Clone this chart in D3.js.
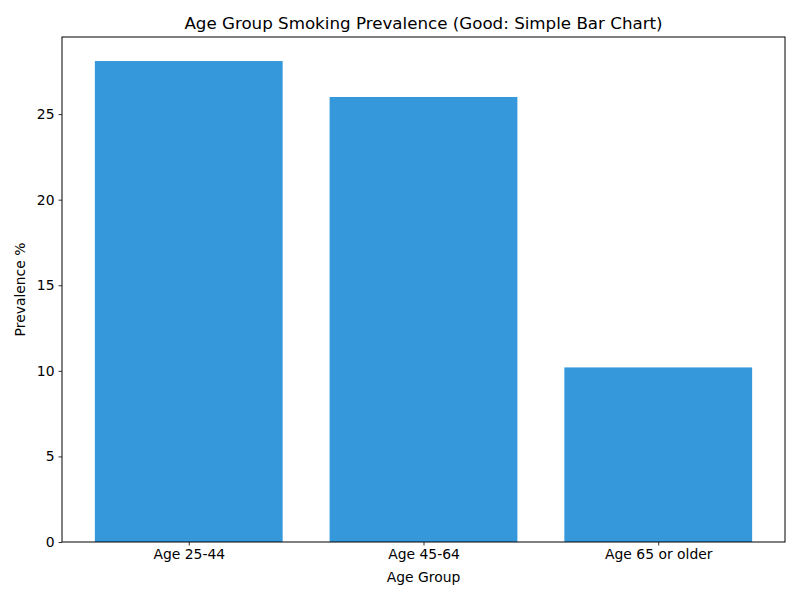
<!DOCTYPE html>
<html>
<head>
<meta charset="utf-8">
<script src="https://cdn.jsdelivr.net/npm/d3@7"></script>
<style>
  body { margin: 0; background: #fff; }
  svg { font-family: "DejaVu Sans", sans-serif; }
</style>
</head>
<body>
<svg id="chart" width="800" height="600"></svg>
<script>
// Data
const ageGroups = ["Age 25-44", "Age 45-64", "Age 65 or older"];
const prevalence = [28.1, 26.0, 10.2];
const yTicks = [0, 5, 10, 15, 20, 25];

const svg = d3.select("#chart");
const margin = { top: 37, right: 15, bottom: 58, left: 62 };
const width = +svg.attr("width") - margin.left - margin.right;
const height = +svg.attr("height") - margin.top - margin.bottom;

const barWidth = 0.8;
const xPad = (ageGroups.length - 1 + barWidth) * 0.05;
const x = d3.scaleLinear()
    .domain([-barWidth / 2 - xPad, ageGroups.length - 1 + barWidth / 2 + xPad])
    .range([0, width]);

const yMax = d3.max(prevalence) * 1.05;
const y = d3.scaleLinear()
    .domain([0, yMax])
    .range([height, 0]);

const g = svg.append("g")
    .attr("transform", `translate(${margin.left},${margin.top})`);

// Bars
g.selectAll(".bar")
    .data(prevalence)
    .enter().append("rect")
    .attr("class", "bar")
    .attr("x", (d, i) => x(i - barWidth / 2))
    .attr("width", x(barWidth) - x(0))
    .attr("y", d => y(d))
    .attr("height", d => y(0) - y(d))
    .attr("fill", "#3498db");

// Axes
const xAxis = g.append("g")
    .attr("transform", `translate(0,${height})`)
    .call(d3.axisBottom(x)
        .tickValues(d3.range(ageGroups.length))
        .tickFormat(i => ageGroups[i])
        .tickSizeOuter(0)
        .tickSize(3.5)
        .tickPadding(4));

const yAxis = g.append("g")
    .call(d3.axisLeft(y)
        .tickValues(yTicks)
        .tickSizeOuter(0)
        .tickSize(3.5)
        .tickPadding(4));

[xAxis, yAxis].forEach(a => {
    a.select(".domain").remove();
    a.selectAll("text")
        .style("font-family", "DejaVu Sans, sans-serif")
        .style("font-size", "13.9px")
        .attr("fill", "#000");
    a.selectAll("line").attr("stroke", "#000").attr("stroke-width", 0.8);
});

// Frame
g.append("rect")
    .attr("width", width)
    .attr("height", height)
    .attr("fill", "none")
    .attr("stroke", "#000")
    .attr("stroke-width", 1);

// Labels
svg.append("text")
    .attr("x", margin.left + width / 2)
    .attr("y", 29)
    .attr("text-anchor", "middle")
    .style("font-size", "16.7px")
    .text("Age Group Smoking Prevalence (Good: Simple Bar Chart)");

svg.append("text")
    .attr("x", margin.left + width / 2)
    .attr("y", 582)
    .attr("text-anchor", "middle")
    .style("font-size", "13.9px")
    .text("Age Group");

svg.append("text")
    .attr("transform", `translate(25,${margin.top + height / 2}) rotate(-90)`)
    .attr("text-anchor", "middle")
    .style("font-size", "13.9px")
    .text("Prevalence %");
</script>
</body>
</html>
